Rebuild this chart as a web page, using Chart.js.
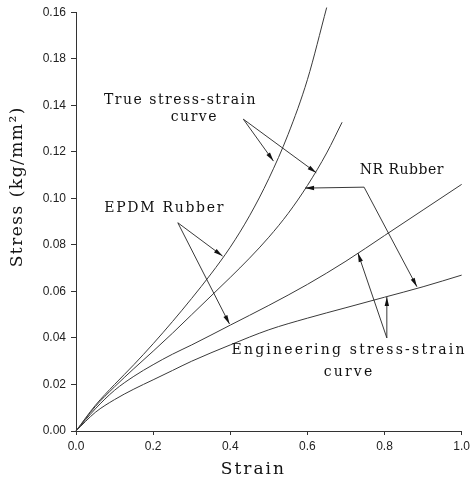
<!DOCTYPE html>
<html>
<head>
<meta charset="utf-8">
<script src="https://cdn.jsdelivr.net/npm/chart.js@4"></script>
<style>
  html, body { margin: 0; padding: 0; background: #fff; }
  #wrap { width: 474px; height: 486px; }
</style>
</head>
<body>
<div id="wrap"><canvas id="stressChart"></canvas></div>
<script>
// values
const strainEpdmTrue = [0, 0.05, 0.1, 0.15, 0.2, 0.25, 0.3, 0.35, 0.4, 0.45, 0.5, 0.55, 0.6, 0.65];
const stressEpdmTrue = [0, 0.011, 0.020, 0.0285, 0.0375, 0.047, 0.057, 0.0675, 0.079, 0.0925, 0.1085, 0.1275, 0.151, 0.182];

const strainNrTrue = [0, 0.05, 0.1, 0.15, 0.2, 0.25, 0.3, 0.35, 0.4, 0.45, 0.5, 0.55, 0.6, 0.65, 0.69];
const stressNrTrue = [0, 0.0105, 0.019, 0.0268, 0.0343, 0.042, 0.050, 0.058, 0.066, 0.0743, 0.0833, 0.0935, 0.1055, 0.1195, 0.1327];

const strainEng = [0, 0.05, 0.1, 0.15, 0.2, 0.25, 0.3, 0.4, 0.5, 0.6, 0.7, 0.8, 0.9, 1.0];
const stressEpdmEng = [0, 0.0095, 0.0175, 0.0235, 0.0285, 0.033, 0.037, 0.0455, 0.054, 0.063, 0.073, 0.084, 0.095, 0.106];
const stressNrEng = [0, 0.008, 0.0135, 0.018, 0.022, 0.026, 0.030, 0.037, 0.0435, 0.0485, 0.053, 0.0575, 0.062, 0.067];

const xTickLabels = ['0.0', '0.2', '0.4', '0.6', '0.8', '1.0'];
const yTickLabels = ['0.00', '0.02', '0.04', '0.06', '0.08', '0.10', '0.12', '0.14', '0.18', '0.16'];

const toPoints = (xs, ys) => xs.map((x, i) => ({x: x, y: ys[i]}));

function lineSet(label, xs, ys) {
    return {
        label: label,
        data: toPoints(xs, ys),
        borderColor: '#3a3a3a',
        borderWidth: 1,
        pointRadius: 0,
        cubicInterpolationMode: 'monotone',
        fill: false,
        clip: false
    };
}

function arrow(ctx, x0, y0, x1, y1) {
    const a = Math.atan2(y1 - y0, x1 - x0);
    ctx.beginPath();
    ctx.moveTo(x0, y0);
    ctx.lineTo(x1, y1);
    ctx.stroke();
    ctx.beginPath();
    ctx.moveTo(x1, y1);
    ctx.lineTo(x1 - 9 * Math.cos(a) + 2.2 * Math.sin(a), y1 - 9 * Math.sin(a) - 2.2 * Math.cos(a));
    ctx.lineTo(x1 - 9 * Math.cos(a) - 2.2 * Math.sin(a), y1 - 9 * Math.sin(a) + 2.2 * Math.cos(a));
    ctx.closePath();
    ctx.fill();
}

function note(ctx, text, x, y, spacing) {
    ctx.letterSpacing = spacing + 'px';
    ctx.fillText(text, x, y);
}

// labels, arrows and axis titles, placed in data units
const notes = {
    id: 'notes',
    afterDraw(chart) {
        const ctx = chart.ctx;
        const px = v => chart.scales.x.getPixelForValue(v);
        const py = v => chart.scales.y.getPixelForValue(v);
        ctx.save();
        ctx.fillStyle = '#111';
        ctx.strokeStyle = '#222';
        ctx.lineWidth = 0.9;
        ctx.font = '14px "DejaVu Serif"';
        ctx.textAlign = 'center';
        ctx.textBaseline = 'middle';

        note(ctx, 'True stress-strain', px(0.271), py(0.142), 1.5);
        note(ctx, 'curve', px(0.307), py(0.135), 1.5);
        arrow(ctx, px(0.434), py(0.134), px(0.512), py(0.116));
        arrow(ctx, px(0.434), py(0.134), px(0.623), py(0.111));

        note(ctx, 'NR Rubber', px(0.845), py(0.112), 0.5);
        arrow(ctx, px(0.747), py(0.1048), px(0.594), py(0.1044));
        arrow(ctx, px(0.747), py(0.1048), px(0.884), py(0.062));

        note(ctx, 'EPDM Rubber', px(0.230), py(0.0955), 1.7);
        arrow(ctx, px(0.264), py(0.0895), px(0.380), py(0.0752));
        arrow(ctx, px(0.264), py(0.0895), px(0.398), py(0.046));

        note(ctx, 'Engineering stress-strain', px(0.708), py(0.0348), 2.2);
        note(ctx, 'curve', px(0.708), py(0.0253), 2.2);
        arrow(ctx, px(0.806), py(0.040), px(0.731), py(0.0765));
        arrow(ctx, px(0.806), py(0.040), px(0.806), py(0.0576));

        // axis titles
        ctx.font = '17px "DejaVu Serif"';
        note(ctx, 'Strain', px(0.46), chart.height - 16, 2);
        ctx.translate(18, py(0.105));
        ctx.rotate(-Math.PI / 2);
        note(ctx, 'Stress (kg/mm²)', 0, 0, 1.5);
        ctx.restore();
    }
};

const tickFont = {family: '"Liberation Sans", Arial, sans-serif', size: 12};

let chart = new Chart(document.getElementById('stressChart').getContext('2d'), {
    type: 'line',
    data: {
        datasets: [
            lineSet('EPDM true', strainEpdmTrue, stressEpdmTrue),
            lineSet('NR true', strainNrTrue, stressNrTrue),
            lineSet('EPDM engineering', strainEng, stressEpdmEng),
            lineSet('NR engineering', strainEng, stressNrEng)
        ]
    },
    options: {
        responsive: true,
        maintainAspectRatio: false,
        animation: false,
        layout: {padding: {top: 12, right: 11, left: 0, bottom: 0}},
        plugins: {legend: {display: false}, tooltip: {enabled: false}},
        scales: {
            x: {
                type: 'linear', min: 0, max: 1,
                afterFit: s => { s.height = 55; },
                border: {display: true, color: '#333', width: 1},
                grid: {drawOnChartArea: false, drawTicks: true, tickLength: 4, color: '#333'},
                ticks: {stepSize: 0.2, color: '#222', font: tickFont, padding: 4,
                        callback: (v, i) => xTickLabels[i]}
            },
            y: {
                type: 'linear', min: 0, max: 0.18,
                afterFit: s => { s.width = 76; },
                border: {display: true, color: '#333', width: 1},
                grid: {drawOnChartArea: false, drawTicks: true, tickLength: 5, color: '#333'},
                ticks: {stepSize: 0.02, color: '#222', font: tickFont, padding: 5,
                        callback: (v, i) => yTickLabels[i]}
            }
        }
    },
    plugins: [notes]
});
</script>
</body>
</html>
